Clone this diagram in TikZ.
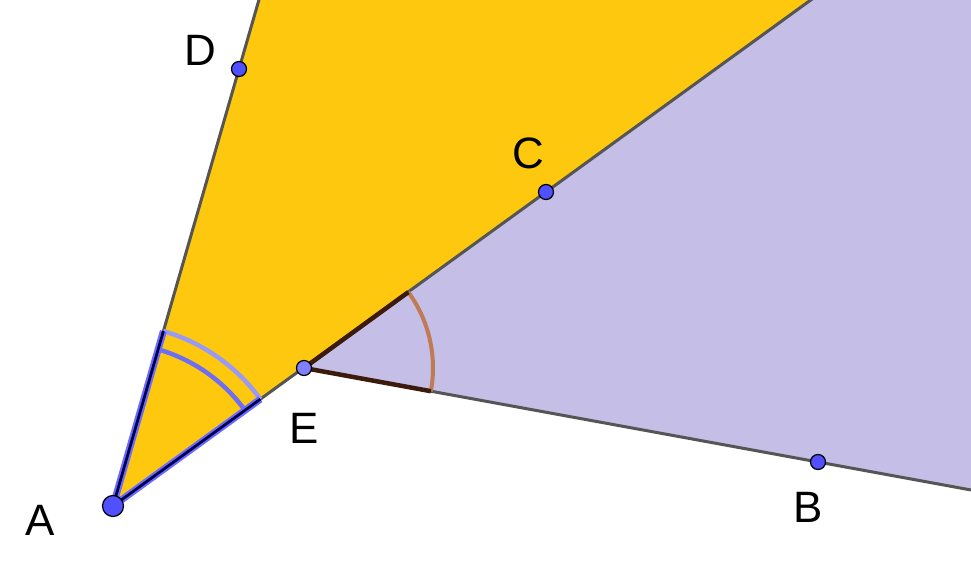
\documentclass[tikz,border=0pt]{standalone}
\usepackage{fontspec}
\setmainfont{Liberation Sans}
\usetikzlibrary{calc,angles}
\definecolor{sector}{RGB}{253,200,14}
\definecolor{region}{RGB}{197,190,230}
\definecolor{ray}{RGB}{85,85,85}
\definecolor{dotblue}{RGB}{80,80,255}
\definecolor{dotlight}{RGB}{128,128,255}
\definecolor{markblue}{RGB}{110,110,245}
\definecolor{markbrown}{RGB}{192,122,84}
\definecolor{darkbrown}{RGB}{60,26,12}
\tikzset{
  dot/.style={circle, draw=black, line width=0.25mm, fill=dotblue, inner sep=0pt, minimum size=3mm},
  lbl/.style={font=\fontsize{25}{25}\selectfont},
  rayline/.style={draw=ray, line width=0.6mm}
}
\begin{document}
\begin{tikzpicture}[x=0.2mm,y=0.2mm]
\useasboundingbox (0,0) rectangle (971,584);
\clip (0,0) rectangle (971,584);
\coordinate (A) at (113,78);
\coordinate (D) at (239,515);
\coordinate (C) at (546,392);
\coordinate (E) at (304,216);
\coordinate (B) at (818,122);
\coordinate (D_end) at ($(A)!2!(D)$);
\coordinate (C_end) at ($(A)!2!(C)$);
\coordinate (EC_end) at ($(E)!3!(C)$);
\coordinate (EB_end) at ($(E)!3!(B)$);
\coordinate (corner) at (EB_end |- EC_end);
\fill[sector] (A) -- (D_end) -- (C_end) -- cycle;
\fill[region] (E) -- (EC_end) -- (corner) -- (EB_end) -- cycle;
\draw[rayline] (A) -- (D_end);
\draw[rayline] (A) -- (C_end);
\draw[rayline] (E) -- (EB_end);
\path pic[draw=markblue!70!white, line width=0.9mm, angle radius=36.4mm] {angle = C--A--D};
\path pic[draw=markblue, line width=0.9mm, angle radius=32.6mm] {angle = C--A--D};
\draw[dotblue!85!white, line width=1.4mm] ($(A)!36.4mm!(D)$) -- (A) -- ($(A)!36.4mm!(C)$);
\draw[black!70!blue, line width=0.55mm] ($(A)!36.4mm!(D)$) -- (A) -- ($(A)!36.4mm!(C)$);
\path pic[draw=markbrown, line width=0.8mm, angle radius=25.8mm] {angle = B--E--C};
\draw[darkbrown, line width=0.9mm] ($(E)!25.8mm!(C)$) -- (E) -- ($(E)!25.8mm!(B)$);
\node[dot, minimum size=4.2mm] (pt_A) at (A) {};
\node[dot] (pt_D) at (D) {};
\node[dot] (pt_C) at (C) {};
\node[dot, fill=dotlight] (pt_E) at (E) {};
\node[dot] (pt_B) at (B) {};
\node[lbl] (lbl_A) at (40,64) {A};
\node[lbl] (lbl_D) at (200,534) {D};
\node[lbl] (lbl_C) at (528,431) {C};
\node[lbl] (lbl_E) at (304,156) {E};
\node[lbl] (lbl_B) at (808,77) {B};
\end{tikzpicture}
\end{document}
